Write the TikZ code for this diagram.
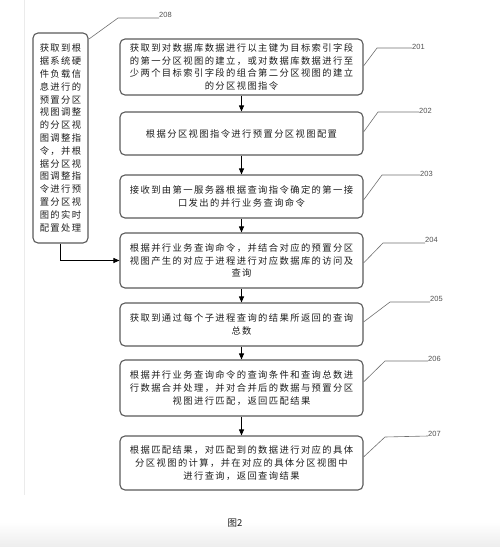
\documentclass[tikz,border=0pt]{standalone}
\usepackage{fontspec}
\newfontfamily\cjk[LetterSpace=15]{Noto Sans CJK SC}
\newfontfamily\cjkcap{Noto Sans CJK SC}
\newfontfamily\numfont{Liberation Sans}
\usetikzlibrary{arrows.meta}
\definecolor{boxgray}{HTML}{5A5A5A}
\definecolor{textgray}{HTML}{1E1E1E}
\definecolor{leadgray}{HTML}{707070}
\definecolor{numgray}{HTML}{505050}
\begin{document}
\begin{tikzpicture}[x=1pt,y=-1pt,
  box/.style={draw=boxgray, line width=1.1pt, rounded corners=5pt, fill=white,
    font=\cjk\fontsize{9.3}{12.8}\selectfont, align=center, text=textgray, inner sep=0pt},
  lead/.style={draw=leadgray, line width=0.6pt},
  num/.style={font=\numfont\fontsize{7.5}{9}\selectfont, text=numgray, inner sep=0pt, anchor=west},
  arr/.style={-{Triangle[length=6pt,width=5pt]}, line width=0.9pt, black}]
\useasboundingbox (0,0) rectangle (500,547);
\fill[top color=white, bottom color=black!7, draw=none] (0,522) rectangle (500,547);
\draw[black!8, line width=0.6pt] (24,0) -- (24,495);

\node[box, minimum width=243pt, minimum height=56pt] (b201) at (241.5,67)
  {获取到对数据库数据进行以主键为目标索引字段\\的第一分区视图的建立，或对数据库数据进行至\\少两个目标索引字段的组合第二分区视图的建立\\的分区视图指令};
\node[box, minimum width=243pt, minimum height=43pt] (b202) at (241.5,133.5)
  {根据分区视图指令进行预置分区视图配置};
\node[box, minimum width=243pt, minimum height=43pt] (b203) at (241.5,196.5)
  {接收到由第一服务器根据查询指令确定的第一接\\口发出的并行业务查询命令};
\node[box, minimum width=243pt, minimum height=55pt] (b204) at (241.5,260.5)
  {根据并行业务查询命令，并结合对应的预置分区\\视图产生的对应于进程进行对应数据库的访问及\\查询};
\node[box, minimum width=243pt, minimum height=43pt] (b205) at (241.5,324.5)
  {获取到通过每个子进程查询的结果所返回的查询\\总数};
\node[box, minimum width=243pt, minimum height=56pt] (b206) at (241.5,388)
  {根据并行业务查询命令的查询条件和查询总数进\\行数据合并处理，并对合并后的数据与预置分区\\视图进行匹配，返回匹配结果};
\node[box, minimum width=243pt, minimum height=54pt] (b207) at (241.5,463)
  {根据匹配结果，对匹配到的数据进行对应的具体\\分区视图的计算，并在对应的具体分区视图中\\进行查询，返回查询结果};
\node[box, minimum width=55pt, minimum height=210pt] (b208) at (60.5,138)
  {获取到根\\据系统硬\\件负载信\\息进行的\\预置分区\\视图调整\\的分区视\\图调整指\\令，并根\\据分区视\\图调整指\\令进行预\\置分区视\\图的实时\\配置处理};

\draw[arr] (b201) -- (b202);
\draw[arr] (b202) -- (b203);
\draw[arr] (b203) -- (b204);
\draw[arr] (b204) -- (b205);
\draw[arr] (b205) -- (b206);
\draw[arr] (b206) -- (b207);
\draw[arr] (b208.south) |- (b204.west);

\node[num] (l201) at (412,47) {201};
\node[num] (l202) at (419,111) {202};
\node[num] (l203) at (420,174) {203};
\node[num] (l204) at (425,240) {204};
\node[num] (l205) at (430,299) {205};
\node[num] (l206) at (428,359) {206};
\node[num] (l207) at (428,434) {207};
\node[num] (l208) at (159,15) {208};

\draw[lead] (b201.east |- 0,66) -- (377,48) -- (l201.west |- 0,48);
\draw[lead] (b202.east |- 0,132) -- (378,112) -- (l202.west |- 0,112);
\draw[lead] (b203.east |- 0,200) -- (382,175) -- (l203.west |- 0,175);
\draw[lead] (b204.east |- 0,263) -- (383,243) -- (l204.west |- 0,243);
\draw[lead] (b205.east |- 0,322) -- (390,302) -- (l205.west |- 0,302);
\draw[lead] (b206.east |- 0,382) -- (385,361) -- (l206.west |- 0,361);
\draw[lead] (b207.east |- 0,457) -- (385,437) -- (l207.west |- 0,436);
\draw[lead] (89,39) -- (118,18) -- (l208.west |- 0,18);

\node[font=\cjkcap\fontsize{9.5}{11}\selectfont, text=textgray, inner sep=0pt] (cap) at (235,523) {图2};
\end{tikzpicture}
\end{document}
